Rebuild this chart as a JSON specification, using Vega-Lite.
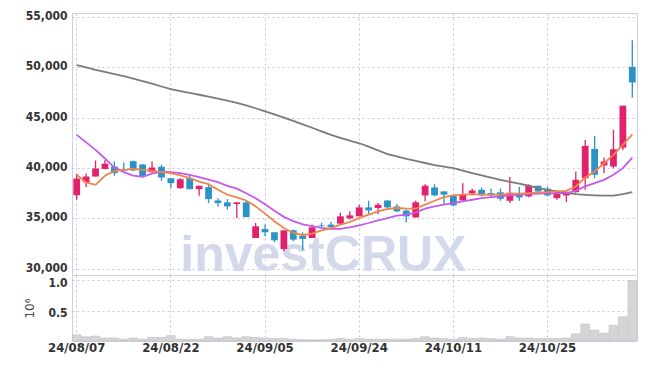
{
  "$schema": "https://vega.github.io/schema/vega-lite/v6.json",
  "background": "white",
  "padding": {"left": 0, "top": 9, "right": 9, "bottom": 0},
  "spacing": 0,
  "bounds": "flush",
  "config": {
    "view": {"stroke": "#cfd0d8"},
    "axis": {
      "labelFont": "DejaVu Sans Condensed",
      "labelFontWeight": "bold",
      "labelFontSize": 13,
      "labelColor": "#333333",
      "ticks": false,
      "domain": false,
      "gridColor": "#c3c8de",
      "gridDash": [2, 3],
      "gridWidth": 1
    }
  },
  "datasets": {
    "d": [
      {"date": "24/08/07", "open": 37300, "close": 38950, "high": 39400, "low": 36850, "volume": 100000, "ma5": 39330, "ma20": 43290, "ma120": 50220},
      {"date": "24/08/08", "open": 38600, "close": 39160, "high": 39450, "low": 38100, "volume": 70000, "ma5": 38570, "ma20": 42550, "ma120": 49990},
      {"date": "24/08/09", "open": 39160, "close": 39950, "high": 40740, "low": 39160, "volume": 80000, "ma5": 38330, "ma20": 41800, "ma120": 49760},
      {"date": "24/08/12", "open": 39900, "close": 40430, "high": 40810, "low": 39880, "volume": 50000, "ma5": 39230, "ma20": 40950, "ma120": 49540},
      {"date": "24/08/13", "open": 40150, "close": 39490, "high": 40650, "low": 39230, "volume": 50000, "ma5": 39720, "ma20": 40050, "ma120": 49340},
      {"date": "24/08/14", "open": 39880, "close": 39720, "high": 40550, "low": 39650, "volume": 30000, "ma5": 39820, "ma20": 39600, "ma120": 49120},
      {"date": "24/08/16", "open": 40680, "close": 39760, "high": 40750, "low": 39700, "volume": 50000, "ma5": 39920, "ma20": 39250, "ma120": 48880},
      {"date": "24/08/19", "open": 40350, "close": 39160, "high": 40400, "low": 39100, "volume": 30000, "ma5": 39820, "ma20": 39120, "ma120": 48630},
      {"date": "24/08/20", "open": 39590, "close": 40050, "high": 40650, "low": 39560, "volume": 60000, "ma5": 39720, "ma20": 39450, "ma120": 48380},
      {"date": "24/08/21", "open": 40120, "close": 39060, "high": 40320, "low": 38730, "volume": 60000, "ma5": 39590, "ma20": 39650, "ma120": 48100},
      {"date": "24/08/22", "open": 38990, "close": 38500, "high": 38990, "low": 38000, "volume": 90000, "ma5": 39490, "ma20": 39600, "ma120": 47840},
      {"date": "24/08/23", "open": 38000, "close": 38890, "high": 38990, "low": 37950, "volume": 30000, "ma5": 39260, "ma20": 39500, "ma120": 47650},
      {"date": "24/08/26", "open": 38990, "close": 37900, "high": 39320, "low": 37900, "volume": 30000, "ma5": 38990, "ma20": 39330, "ma120": 47460},
      {"date": "24/08/27", "open": 37900, "close": 38240, "high": 38240, "low": 37250, "volume": 30000, "ma5": 38650, "ma20": 39100, "ma120": 47280},
      {"date": "24/08/28", "open": 38100, "close": 36910, "high": 38400, "low": 36520, "volume": 70000, "ma5": 38400, "ma20": 38850, "ma120": 47100},
      {"date": "24/08/29", "open": 36780, "close": 36520, "high": 37010, "low": 36190, "volume": 50000, "ma5": 37840, "ma20": 38600, "ma120": 46900},
      {"date": "24/08/30", "open": 36590, "close": 36190, "high": 36920, "low": 35860, "volume": 70000, "ma5": 37350, "ma20": 38230, "ma120": 46690},
      {"date": "24/09/02", "open": 36420, "close": 36590, "high": 36590, "low": 35030, "volume": 50000, "ma5": 37080, "ma20": 37950, "ma120": 46470},
      {"date": "24/09/03", "open": 36590, "close": 35130, "high": 36750, "low": 35130, "volume": 70000, "ma5": 36780, "ma20": 37500, "ma120": 46230},
      {"date": "24/09/04", "open": 33050, "close": 34210, "high": 34540, "low": 33050, "volume": 60000, "ma5": 36190, "ma20": 37000, "ma120": 45940},
      {"date": "24/09/05", "open": 33940, "close": 33620, "high": 34380, "low": 33220, "volume": 50000, "ma5": 35470, "ma20": 36400, "ma120": 45620},
      {"date": "24/09/06", "open": 33620, "close": 32820, "high": 33620, "low": 32630, "volume": 40000, "ma5": 34710, "ma20": 35750, "ma120": 45320},
      {"date": "24/09/09", "open": 31960, "close": 33810, "high": 33810, "low": 31740, "volume": 40000, "ma5": 34040, "ma20": 35150, "ma120": 45000},
      {"date": "24/09/10", "open": 33810, "close": 32890, "high": 33900, "low": 32720, "volume": 30000, "ma5": 33550, "ma20": 34720, "ma120": 44680},
      {"date": "24/09/11", "open": 33290, "close": 32960, "high": 33620, "low": 31830, "volume": 20000, "ma5": 33350, "ma20": 34400, "ma120": 44340},
      {"date": "24/09/12", "open": 33050, "close": 34110, "high": 34380, "low": 33050, "volume": 20000, "ma5": 33480, "ma20": 34220, "ma120": 44000},
      {"date": "24/09/13", "open": 34310, "close": 34250, "high": 34570, "low": 34050, "volume": 20000, "ma5": 33810, "ma20": 34060, "ma120": 43650},
      {"date": "24/09/19", "open": 34380, "close": 34140, "high": 34640, "low": 34040, "volume": 30000, "ma5": 34040, "ma20": 33960, "ma120": 43300},
      {"date": "24/09/20", "open": 34480, "close": 35200, "high": 35560, "low": 34380, "volume": 40000, "ma5": 34380, "ma20": 33960, "ma120": 43000},
      {"date": "24/09/23", "open": 35000, "close": 35300, "high": 35700, "low": 34900, "volume": 30000, "ma5": 34640, "ma20": 34110, "ma120": 42720},
      {"date": "24/09/24", "open": 35200, "close": 36090, "high": 36350, "low": 35200, "volume": 40000, "ma5": 35030, "ma20": 34310, "ma120": 42460},
      {"date": "24/09/25", "open": 36090, "close": 35790, "high": 36750, "low": 35360, "volume": 30000, "ma5": 35370, "ma20": 34540, "ma120": 42120},
      {"date": "24/09/26", "open": 36030, "close": 36350, "high": 36520, "low": 35430, "volume": 30000, "ma5": 35700, "ma20": 34800, "ma120": 41760},
      {"date": "24/09/27", "open": 36780, "close": 36090, "high": 36780, "low": 35990, "volume": 30000, "ma5": 35930, "ma20": 35030, "ma120": 41380},
      {"date": "24/09/30", "open": 36190, "close": 35700, "high": 36420, "low": 35600, "volume": 30000, "ma5": 36030, "ma20": 35270, "ma120": 41150},
      {"date": "24/10/02", "open": 35770, "close": 35200, "high": 35860, "low": 34600, "volume": 30000, "ma5": 35960, "ma20": 35370, "ma120": 40920},
      {"date": "24/10/04", "open": 35100, "close": 36590, "high": 36750, "low": 35030, "volume": 40000, "ma5": 35960, "ma20": 35600, "ma120": 40710},
      {"date": "24/10/07", "open": 37280, "close": 38240, "high": 38400, "low": 36690, "volume": 70000, "ma5": 36360, "ma20": 35960, "ma120": 40500},
      {"date": "24/10/08", "open": 38070, "close": 37280, "high": 38400, "low": 37180, "volume": 50000, "ma5": 36750, "ma20": 36190, "ma120": 40300},
      {"date": "24/10/10", "open": 37680, "close": 37350, "high": 37680, "low": 36420, "volume": 40000, "ma5": 37110, "ma20": 36360, "ma120": 40140},
      {"date": "24/10/11", "open": 37280, "close": 36290, "high": 37280, "low": 36190, "volume": 30000, "ma5": 37280, "ma20": 36520, "ma120": 39980},
      {"date": "24/10/14", "open": 36780, "close": 37350, "high": 38500, "low": 36780, "volume": 60000, "ma5": 37350, "ma20": 36690, "ma120": 39740},
      {"date": "24/10/15", "open": 37510, "close": 37770, "high": 37940, "low": 37280, "volume": 40000, "ma5": 37410, "ma20": 36850, "ma120": 39500},
      {"date": "24/10/16", "open": 37840, "close": 37280, "high": 38070, "low": 37180, "volume": 50000, "ma5": 37350, "ma20": 37010, "ma120": 39260},
      {"date": "24/10/17", "open": 37510, "close": 37280, "high": 37970, "low": 37180, "volume": 40000, "ma5": 37350, "ma20": 37110, "ma120": 39040},
      {"date": "24/10/18", "open": 37580, "close": 36950, "high": 37970, "low": 36750, "volume": 30000, "ma5": 37350, "ma20": 37180, "ma120": 38830},
      {"date": "24/10/21", "open": 36750, "close": 37540, "high": 39100, "low": 36520, "volume": 70000, "ma5": 37450, "ma20": 37280, "ma120": 38630},
      {"date": "24/10/22", "open": 37510, "close": 37080, "high": 38130, "low": 36750, "volume": 50000, "ma5": 37450, "ma20": 37350, "ma120": 38440},
      {"date": "24/10/23", "open": 37180, "close": 38270, "high": 38400, "low": 37110, "volume": 50000, "ma5": 37510, "ma20": 37410, "ma120": 38240},
      {"date": "24/10/24", "open": 38240, "close": 37680, "high": 38240, "low": 37400, "volume": 40000, "ma5": 37580, "ma20": 37450, "ma120": 38040},
      {"date": "24/10/25", "open": 37940, "close": 37280, "high": 38170, "low": 37180, "volume": 40000, "ma5": 37610, "ma20": 37480, "ma120": 37840},
      {"date": "24/10/28", "open": 37010, "close": 37610, "high": 37680, "low": 36850, "volume": 40000, "ma5": 37680, "ma20": 37480, "ma120": 37680},
      {"date": "24/10/29", "open": 37280, "close": 37610, "high": 37740, "low": 36620, "volume": 50000, "ma5": 37740, "ma20": 37510, "ma120": 37540},
      {"date": "24/10/30", "open": 37610, "close": 38830, "high": 39660, "low": 37510, "volume": 120000, "ma5": 38170, "ma20": 37740, "ma120": 37410},
      {"date": "24/10/31", "open": 38990, "close": 42200, "high": 42790, "low": 37840, "volume": 280000, "ma5": 39060, "ma20": 38170, "ma120": 37340},
      {"date": "24/11/01", "open": 41900, "close": 39330, "high": 43190, "low": 38990, "volume": 180000, "ma5": 39660, "ma20": 38500, "ma120": 37290},
      {"date": "24/11/04", "open": 40250, "close": 40650, "high": 41040, "low": 39490, "volume": 130000, "ma5": 40480, "ma20": 38830, "ma120": 37260},
      {"date": "24/11/05", "open": 40150, "close": 41860, "high": 43780, "low": 39980, "volume": 260000, "ma5": 41310, "ma20": 39330, "ma120": 37250},
      {"date": "24/11/06", "open": 42030, "close": 46190, "high": 46190, "low": 41800, "volume": 400000, "ma5": 42300, "ma20": 39990, "ma120": 37400},
      {"date": "24/11/07", "open": 50050, "close": 48500, "high": 52690, "low": 46980, "volume": 1000000, "ma5": 43350, "ma20": 41040, "ma120": 37600}
    ]
  },
  "vconcat": [
    {
      "width": 565,
      "height": 262,
      "data": {"name": "d"},
      "encoding": {
        "x": {
          "field": "date",
          "type": "ordinal",
          "sort": null,
          "scale": {
            "paddingInner": 0,
            "paddingOuter": 0,
            "domain": ["24/08/07","24/08/08","24/08/09","24/08/12","24/08/13","24/08/14","24/08/16","24/08/19","24/08/20","24/08/21","24/08/22","24/08/23","24/08/26","24/08/27","24/08/28","24/08/29","24/08/30","24/09/02","24/09/03","24/09/04","24/09/05","24/09/06","24/09/09","24/09/10","24/09/11","24/09/12","24/09/13","24/09/19","24/09/20","24/09/23","24/09/24","24/09/25","24/09/26","24/09/27","24/09/30","24/10/02","24/10/04","24/10/07","24/10/08","24/10/10","24/10/11","24/10/14","24/10/15","24/10/16","24/10/17","24/10/18","24/10/21","24/10/22","24/10/23","24/10/24","24/10/25","24/10/28","24/10/29","24/10/30","24/10/31","24/11/01","24/11/04","24/11/05","24/11/06","24/11/07"]
          },
          "axis": {
            "values": ["24/08/07", "24/08/22", "24/09/05", "24/09/24", "24/10/11", "24/10/25"],
            "labels": false,
            "title": null,
            "grid": true,
            "minExtent": 0,
            "maxExtent": 0,
            "bandPosition": 0.5
          }
        }
      },
      "layer": [
        {
          "data": {"values": [{"t": "investCRUX"}]},
          "mark": {"type": "text", "align": "left", "baseline": "alphabetic", "font": "Liberation Sans", "fontWeight": "bold", "fontSize": 50, "color": "#d3d8ea"},
          "encoding": {
            "x": {"datum": "24/08/23", "type": "ordinal"},
            "y": {
              "datum": 29800,
              "type": "quantitative",
              "scale": {"domain": [29375, 55400], "nice": false, "zero": false},
              "axis": {"values": [30000, 35000, 40000, 45000, 50000, 55000], "format": ",.0f", "title": null, "grid": true, "labelPadding": 5, "labelFontSize": 12, "labelOffset": -1.5, "minExtent": 71, "maxExtent": 71}
            },
            "text": {"field": "t"}
          }
        },
        {
          "mark": {"type": "rule", "strokeWidth": 1.3},
          "encoding": {
            "y": {
              "field": "low",
              "type": "quantitative",
              "scale": {"domain": [29375, 55400], "nice": false, "zero": false},
              "axis": {"values": [30000, 35000, 40000, 45000, 50000, 55000], "format": ",.0f", "title": null, "grid": true, "labelPadding": 5, "labelFontSize": 12, "labelOffset": -1.5, "minExtent": 71, "maxExtent": 71}
            },
            "y2": {"field": "high"},
            "color": {"condition": {"test": "datum.close >= datum.open", "value": "#e2206b"}, "value": "#2b93c8"}
          }
        },
        {
          "mark": {"type": "bar", "width": {"band": 0.72}},
          "encoding": {
            "y": {"field": "open", "type": "quantitative"},
            "y2": {"field": "close"},
            "color": {"condition": {"test": "datum.close >= datum.open", "value": "#e2206b"}, "value": "#2b93c8"}
          }
        },
        {
          "mark": {"type": "line", "color": "#7b7b7b", "strokeWidth": 1.8},
          "encoding": {"y": {"field": "ma120", "type": "quantitative"}}
        },
        {
          "mark": {"type": "line", "color": "#c55be9", "strokeWidth": 1.8},
          "encoding": {"y": {"field": "ma20", "type": "quantitative"}}
        },
        {
          "mark": {"type": "line", "color": "#f0844c", "strokeWidth": 1.8},
          "encoding": {"y": {"field": "ma5", "type": "quantitative"}}
        }
      ]
    },
    {
      "width": 565,
      "height": 66,
      "data": {"name": "d"},
      "mark": {"type": "bar", "width": {"band": 0.92}, "fill": "#d5d5d8", "stroke": "#bfbfc4", "strokeWidth": 0.6},
      "encoding": {
        "x": {
          "field": "date",
          "type": "ordinal",
          "sort": null,
          "scale": {
            "paddingInner": 0,
            "paddingOuter": 0,
            "domain": ["24/08/07","24/08/08","24/08/09","24/08/12","24/08/13","24/08/14","24/08/16","24/08/19","24/08/20","24/08/21","24/08/22","24/08/23","24/08/26","24/08/27","24/08/28","24/08/29","24/08/30","24/09/02","24/09/03","24/09/04","24/09/05","24/09/06","24/09/09","24/09/10","24/09/11","24/09/12","24/09/13","24/09/19","24/09/20","24/09/23","24/09/24","24/09/25","24/09/26","24/09/27","24/09/30","24/10/02","24/10/04","24/10/07","24/10/08","24/10/10","24/10/11","24/10/14","24/10/15","24/10/16","24/10/17","24/10/18","24/10/21","24/10/22","24/10/23","24/10/24","24/10/25","24/10/28","24/10/29","24/10/30","24/10/31","24/11/01","24/11/04","24/11/05","24/11/06","24/11/07"]
          },
          "axis": {
            "values": ["24/08/07", "24/08/22", "24/09/05", "24/09/24", "24/10/11", "24/10/25"],
            "title": null,
            "grid": true,
            "labelAngle": 0,
            "labelPadding": 0,
            "labelFontSize": 13,
            "bandPosition": 0.5
          }
        },
        "y": {
          "field": "volume",
          "type": "quantitative",
          "scale": {"domain": [0, 1090000], "nice": false},
          "axis": {
            "values": [500000, 1000000],
            "labelExpr": "format(datum.value / 1000000, '.1f')",
            "labelFontSize": 12,
            "labelOffset": 2,
            "title": "10⁶",
            "titleFont": "DejaVu Sans",
            "titleFontWeight": "normal",
            "titleFontSize": 12,
            "titleColor": "#444444",
            "titlePadding": 11,
            "grid": true,
            "labelPadding": 5
          }
        }
      }
    }
  ]
}
